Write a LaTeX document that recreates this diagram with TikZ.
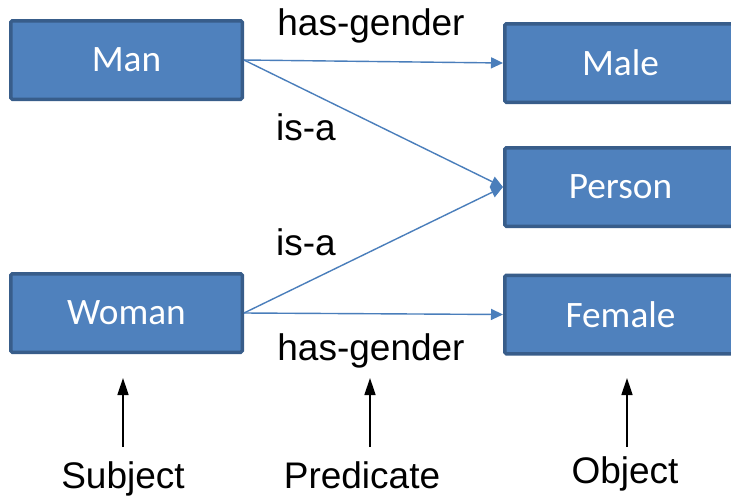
\documentclass[tikz,border=0pt]{standalone}
\usepackage{fontspec}
\setmainfont{Liberation Sans}
\newfontfamily\boxfont{Carlito}
\usetikzlibrary{arrows.meta}
\definecolor{boxfill}{HTML}{4F81BD}
\definecolor{boxline}{HTML}{385D8A}
\definecolor{linkblue}{HTML}{4A7EBB}
\tikzset{
  concept/.style={rectangle, rounded corners=1.5pt, draw=boxline, line width=3.5pt,
    fill=boxfill, text=white, minimum width=231.5pt, minimum height=78.5pt,
    inner sep=0pt, font=\boxfont\fontsize{37.3}{41}\selectfont},
  relation/.style={draw=linkblue, line width=1.4pt,
    -{Triangle[length=12pt,width=11pt]}},
  rellabel/.style={anchor=base, inner sep=0pt, font=\fontsize{37}{42}\selectfont},
  role/.style={anchor=base, inner sep=0pt, font=\fontsize{37}{42}\selectfont},
  pointer/.style={draw=black, line width=1.5pt,
    -{Triangle[length=17pt,width=11pt]}}
}
\begin{document}
\begin{tikzpicture}[x=1pt,y=-1pt]
\useasboundingbox[fill=white] (0,0) rectangle (731,496);

% subjects and objects
\node[concept] (man)    at (126.5,60)  {Man};
\node[concept] (woman)  at (126.5,313) {Woman};
\node[concept] (male)   at (620.5,63)  {Male};
\node[concept] (person) at (620.5,187) {Person};
\node[concept] (female) at (620.5,314.5) {Female};

% predicates
\draw[relation] (man.east)   -- (male.west);
\draw[relation] (man.east)   -- (person.west);
\draw[relation] (woman.east) -- (person.west);
\draw[relation] (woman.east) -- (female.west);

\node[rellabel] (hg1) at (371,35)  {has-gender};
\node[rellabel] (isa1) at (306,140) {is-a};
\node[rellabel] (isa2) at (306,255) {is-a};
\node[rellabel] (hg2) at (371,360) {has-gender};

% triple roles
\node[role] (subj) at (123,488) {Subject};
\node[role] (pred) at (362,488) {Predicate};
\node[role] (obj)  at (625,483) {Object};

\coordinate (subjfoot) at (123,447);
\coordinate (subjtip)  at (123,378);
\coordinate (predfoot) at (370,447);
\coordinate (predtip)  at (370,378);
\coordinate (objfoot)  at (627,447);
\coordinate (objtip)   at (627,378);

\draw[pointer] (subjfoot) -- (subjtip);
\draw[pointer] (predfoot) -- (predtip);
\draw[pointer] (objfoot)  -- (objtip);
\end{tikzpicture}
\end{document}
